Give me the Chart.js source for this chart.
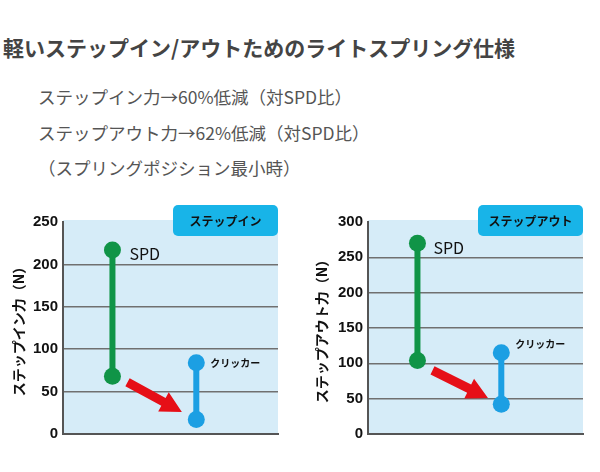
<!DOCTYPE html>
<html lang="ja">
<head>
<meta charset="UTF-8">
<title>ライトスプリング仕様</title>
<script src="https://cdn.jsdelivr.net/npm/chart.js"></script>
<style>
    body {
        margin: 0;
        padding: 0;
        background: #fff;
        font-family: "Noto Sans CJK JP", sans-serif;
    }
    .page {
        position: relative;
        width: 600px;
        height: 472px;
        overflow: hidden;
    }
    .title {
        position: absolute;
        left: 3px;
        top: 32px;
        font-size: 21px;
        font-weight: bold;
        color: #444;
        white-space: nowrap;
        line-height: 30px;
    }
    .note {
        position: absolute;
        left: 38px;
        font-size: 17.5px;
        color: #555;
        white-space: nowrap;
        line-height: 26px;
    }
    .chart-box {
        position: absolute;
        top: 200px;
        width: 300px;
        height: 250px;
    }
</style>
</head>
<body>
<div class="page">
    <div class="title">軽いステップイン/アウトためのライトスプリング仕様</div>
    <div class="note" style="top:84px">ステップイン力→60%低減（対SPD比）</div>
    <div class="note" style="top:120px">ステップアウト力→62%低減（対SPD比）</div>
    <div class="note" style="top:155px">（スプリングポジション最小時）</div>

    <div class="chart-box" style="left:0"><canvas id="stepIn"></canvas></div>
    <div class="chart-box" style="left:300px"><canvas id="stepOut"></canvas></div>
</div>

<script>
    // data (N)
    const seriesNames = ['SPD', 'クリッカー'];
    const seriesX = [0.23, 0.62];          // horizontal position of each series
    const stepInSpd = [217, 68];           // max, min
    const stepInClicker = [84, 17];
    const stepOutSpd = [270, 104];
    const stepOutClicker = [115, 42];
    const stepInTicks = [0, 50, 100, 150, 200, 250];
    const stepOutTicks = [0, 50, 100, 150, 200, 250, 300];

    const GREEN = '#109447';
    const BLUE = '#1c9fe3';

    function rangeSet(name, x, vals, color) {
        return {
            label: name,
            data: vals.map(v => ({ x: x, y: v })),
            borderColor: color,
            backgroundColor: color,
            borderWidth: 6,
            pointRadius: 8.5,
            pointHoverRadius: 8.5,
            pointBorderWidth: 0,
            showLine: true
        };
    }

    // background, arrow, labels, tab box
    const extras = {
        id: 'extras',
        beforeDraw(chart) {
            const a = chart.chartArea;
            const ctx = chart.ctx;
            ctx.save();
            ctx.fillStyle = '#d6ecf8';
            ctx.fillRect(a.left, a.top - 2, a.right - a.left, a.bottom - a.top + 2);
            ctx.restore();
        },
        beforeDatasetsDraw(chart) {
            const o = chart.options.plugins.extras;
            const xs = chart.scales.x, ys = chart.scales.y;
            const ctx = chart.ctx;
            const x1 = xs.getPixelForValue(o.arrow[0].x), y1 = ys.getPixelForValue(o.arrow[0].y);
            const x2 = xs.getPixelForValue(o.arrow[1].x), y2 = ys.getPixelForValue(o.arrow[1].y);
            const ang = Math.atan2(y2 - y1, x2 - x1);
            const len = Math.hypot(x2 - x1, y2 - y1);
            const head = 21, hw = 11, sw = 4.5;
            ctx.save();
            ctx.translate(x1, y1);
            ctx.rotate(ang);
            ctx.fillStyle = '#e60f17';
            ctx.beginPath();
            ctx.moveTo(0, -sw);
            ctx.lineTo(len - head, -sw);
            ctx.lineTo(len - head, -hw);
            ctx.lineTo(len, 0);
            ctx.lineTo(len - head, hw);
            ctx.lineTo(len - head, sw);
            ctx.lineTo(0, sw);
            ctx.closePath();
            ctx.fill();
            ctx.restore();
        },
        afterDraw(chart) {
            const o = chart.options.plugins.extras;
            const ctx = chart.ctx;
            ctx.save();
            // series labels next to the top point
            ctx.textBaseline = 'middle';
            ctx.fillStyle = '#111';
            chart.data.datasets.forEach((ds, i) => {
                const pt = chart.getDatasetMeta(i).data[0];
                const off = o.labelOffsets[i];
                ctx.font = i === 0 ? '16px "Noto Sans CJK JP", sans-serif'
                                   : 'bold 10px "Noto Sans CJK JP", sans-serif';
                ctx.fillText(ds.label, pt.x + off[0], pt.y + off[1]);
            });
            // tab box top right
            const a = chart.chartArea;
            const w = o.boxWidth, h = 31;
            const bx = a.right - w, by = 5;
            ctx.fillStyle = '#18b4e8';
            ctx.beginPath();
            ctx.roundRect(bx, by, w, h, 5);
            ctx.fill();
            ctx.fillStyle = '#111';
            ctx.font = 'bold 12px "Noto Sans CJK JP", sans-serif';
            ctx.textAlign = 'center';
            ctx.fillText(o.box, bx + w / 2, by + h / 2 + 1);
            ctx.restore();
        }
    };

    function makeChart(id, title, box, spd, clicker, ticks, axisWidth, padRight, titlePad, arrow, labelOffsets) {
        const max = ticks[ticks.length - 1];
        return new Chart(document.getElementById(id), {
            type: 'scatter',
            data: {
                datasets: [
                    rangeSet(seriesNames[0], seriesX[0], spd, GREEN),
                    rangeSet(seriesNames[1], seriesX[1], clicker, BLUE)
                ]
            },
            options: {
                responsive: true,
                maintainAspectRatio: false,
                animation: false,
                layout: { padding: { top: 22, right: padRight, bottom: 16, left: 0 } },
                plugins: {
                    legend: { display: false },
                    tooltip: { enabled: false },
                    extras: { box: box, boxWidth: 105, arrow: arrow, labelOffsets: labelOffsets }
                },
                scales: {
                    x: {
                        type: 'linear',
                        min: 0,
                        max: 1,
                        ticks: { display: false },
                        grid: { display: false },
                        border: { color: '#555', width: 2 },
                        afterFit(scale) { scale.height = 0; }
                    },
                    y: {
                        min: 0,
                        max: max,
                        afterBuildTicks(scale) { scale.ticks = ticks.map(v => ({ value: v })); },
                        afterFit(scale) { scale.width = axisWidth; },
                        ticks: {
                            padding: 5,
                            color: '#111',
                            font: { family: '"Liberation Sans", Arial, sans-serif', size: 15, weight: 'bold' }
                        },
                        grid: {
                            drawTicks: false,
                            color: c => c.tick && c.tick.value === max ? 'rgba(0,0,0,0)' : '#707070',
                            lineWidth: 1.5
                        },
                        border: { color: '#555', width: 2 },
                        title: {
                            display: true,
                            text: title,
                            color: '#111',
                            padding: { top: titlePad, bottom: 0 },
                            font: { family: '"Noto Sans CJK JP", sans-serif', size: 14, weight: 'bold' }
                        }
                    }
                }
            },
            plugins: [extras]
        });
    }

    makeChart('stepIn', 'ステップイン力（N）', 'ステップイン', stepInSpd, stepInClicker, stepInTicks, 63, 22, 10,
        [{ x: 0.30, y: 61 }, { x: 0.553, y: 26 }], [[17, 4], [14, 0]]);
    makeChart('stepOut', 'ステップアウト力（N）', 'ステップアウト', stepOutSpd, stepOutClicker, stepOutTicks, 68, 17, 13,
        [{ x: 0.30, y: 90 }, { x: 0.558, y: 51 }], [[16, 5], [14, -9]]);
</script>
</body>
</html>
